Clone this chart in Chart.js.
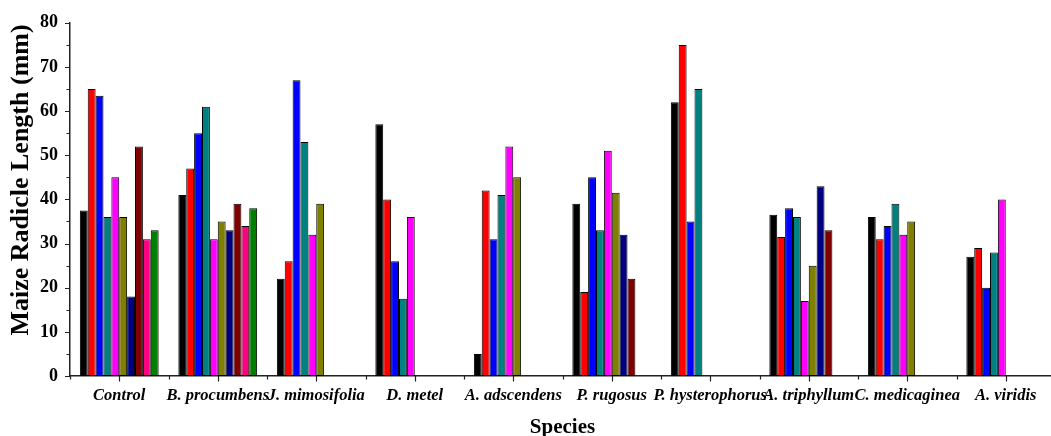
<!DOCTYPE html>
<html>
<head>
<meta charset="utf-8">
<title>Maize Radicle Length by Species</title>
<script src="https://cdn.jsdelivr.net/npm/chart.js@4/dist/chart.umd.min.js"></script>
<style>
    html, body { margin: 0; padding: 0; background: #fff; overflow: hidden; }
    #wrap { width: 1056px; height: 436px; }
</style>
</head>
<body>
<div id="wrap"><canvas id="chart-canvas" width="1056" height="436"></canvas></div>
<script>
// Species on the x axis
const species = ['Control', 'B. procumbens', 'J. mimosifolia', 'D. metel', 'A. adscendens',
    'P. rugosus', 'P. hysterophorus', 'A. triphyllum', 'C. medicaginea', 'A. viridis'];

// Radicle length (mm) per treatment, one value per species (null = not measured)
const series1 = [37.5, 41, 22, 57, 5, 39, 62, 36.5, 36, 27];
const series2 = [65, 47, 26, 40, 42, 19, 75, 31.5, 31, 29];
const series3 = [63.5, 55, 67, 26, 31, 45, 35, 38, 34, 20];
const series4 = [36, 61, 53, 17.5, 41, 33, 65, 36, 39, 28];
const series5 = [45, 31, 32, 36, 52, 51, null, 17, 32, 40];
const series6 = [36, 35, 39, null, 45, 41.5, null, 25, 35, null];
const series7 = [18, 33, null, null, null, 32, null, 43, null, null];
const series8 = [52, 39, null, null, null, 22, null, 33, null, null];
const series9 = [31, 34, null, null, null, null, null, null, null, null];
const series10 = [33, 38, null, null, null, null, null, null, null, null];

const yTicks = [0, 10, 20, 30, 40, 50, 60, 70, 80];

const seriesColors = ['#000000', '#FF0000', '#0000FF', '#008080', '#FF00FF',
    '#808000', '#000080', '#800000', '#FF0080', '#008000'];

document.addEventListener('DOMContentLoaded', function() {
    const chartCanvas = document.getElementById('chart-canvas');
    const serif = "'Times New Roman', 'Liberation Serif', serif";
    const allSeries = [series1, series2, series3, series4, series5,
        series6, series7, series8, series9, series10];

    const datasets = allSeries.map(function(values, i) {
        return {
            label: 'Treatment ' + (i + 1),
            data: values,
            backgroundColor: seriesColors[i],
            borderColor: '#000',
            borderWidth: 1,
            borderSkipped: false,
            categoryPercentage: 0.8,
            barPercentage: 1.0
        };
    });

    // Tick marks (major/minor) and the rotated y title
    const axisDecor = {
        id: 'axisDecor',
        afterDraw: function(chart) {
            const ctx = chart.ctx;
            const xs = chart.scales.x;
            const ys = chart.scales.y;
            const area = chart.chartArea;
            ctx.save();
            ctx.strokeStyle = '#222';
            ctx.lineWidth = 1.2;
            ctx.beginPath();
            for (let v = yTicks[0]; v <= yTicks[yTicks.length - 1]; v += 5) {
                const py = Math.round(ys.getPixelForValue(v)) + 0.5;
                const len = v % 10 === 0 ? 5 : 3.5;
                ctx.moveTo(area.left, py);
                ctx.lineTo(area.left - len, py);
            }
            for (let i = 0; i < species.length; i++) {
                const cx = Math.round(xs.getPixelForValue(i)) + 0.5;
                ctx.moveTo(cx, area.bottom);
                ctx.lineTo(cx, area.bottom + 5.5);
            }
            for (let i = 0; i <= species.length; i++) {
                const bx = Math.round(xs.getPixelForValue(i - 0.5)) + 0.5;
                ctx.moveTo(bx, area.bottom);
                ctx.lineTo(bx, area.bottom + 3.5);
            }
            ctx.stroke();

            ctx.translate(21, 180);
            ctx.rotate(-Math.PI / 2);
            ctx.fillStyle = '#000';
            ctx.font = 'bold 26px ' + serif;
            ctx.textAlign = 'center';
            ctx.textBaseline = 'middle';
            ctx.fillText('Maize Radicle Length (mm)', 0, 0);
            ctx.restore();
        }
    };

    new Chart(chartCanvas, {
        type: 'bar',
        data: { labels: species, datasets: datasets },
        options: {
            responsive: false,
            animation: false,
            layout: { padding: { top: 21, right: 1, bottom: 0, left: 0 } },
            plugins: {
                legend: { display: false },
                tooltip: { enabled: false }
            },
            scales: {
                x: {
                    offset: true,
                    grid: { display: false, drawTicks: false },
                    border: { display: true, color: '#222', width: 1.5 },
                    ticks: {
                        color: '#000',
                        padding: 10,
                        maxRotation: 0,
                        autoSkip: false,
                        font: { family: serif, size: 16.5, weight: 'bold', style: 'italic' }
                    },
                    title: {
                        display: true,
                        text: 'Species',
                        color: '#000',
                        padding: { top: 0, bottom: -4 },
                        font: { family: serif, size: 21, weight: 'bold' }
                    },
                    afterFit: function(scale) { scale.height = 60; }
                },
                y: {
                    min: 0,
                    max: 80,
                    grid: { display: false, drawTicks: false },
                    border: { display: true, color: '#222', width: 1.5 },
                    afterBuildTicks: function(scale) {
                        scale.ticks = yTicks.map(function(v) { return { value: v }; });
                    },
                    ticks: {
                        color: '#000',
                        padding: 12,
                        font: { family: serif, size: 18, weight: 'bold' }
                    },
                    afterFit: function(scale) { scale.width = 70; }
                }
            }
        },
        plugins: [axisDecor]
    });
});
</script>
</body>
</html>
